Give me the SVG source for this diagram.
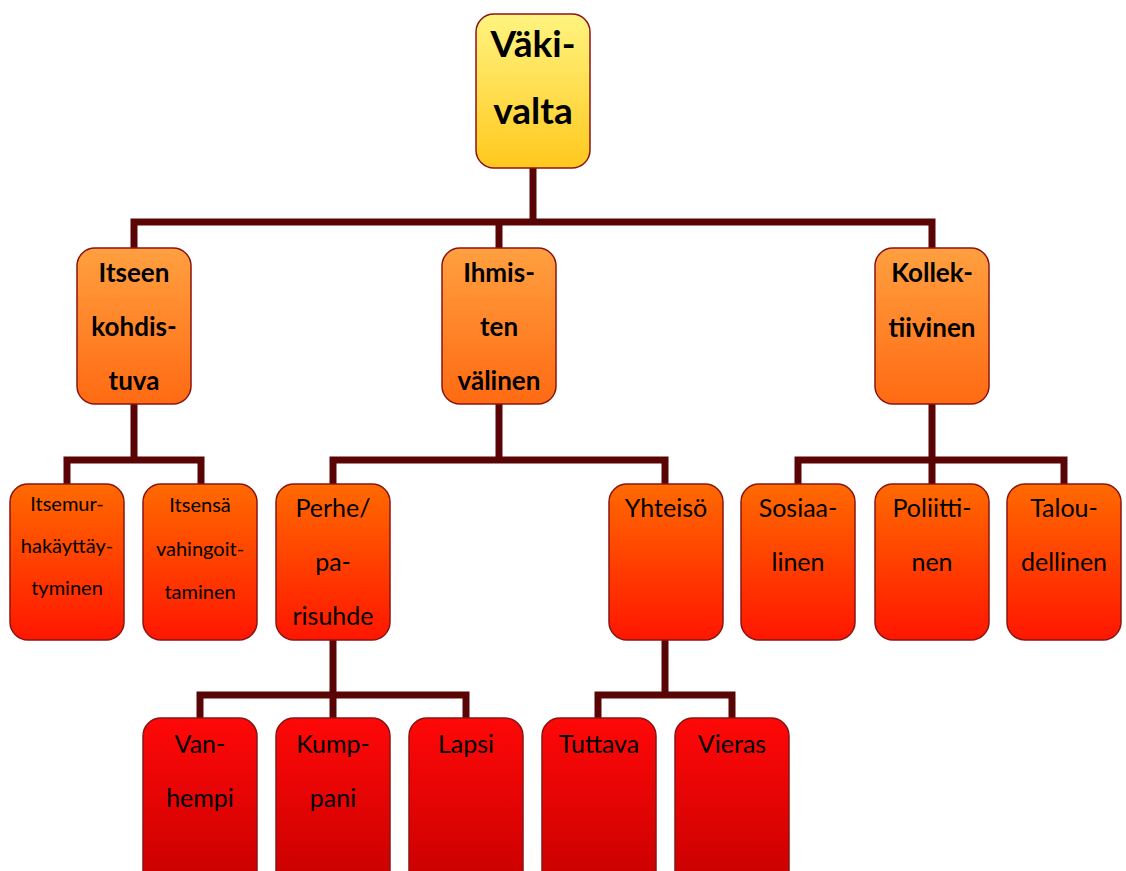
<svg xmlns="http://www.w3.org/2000/svg" width="1126" height="871" viewBox="0 0 1126 871">
<defs>
<linearGradient id="g1" x1="0" y1="0" x2="0" y2="1"><stop offset="0" stop-color="#fff480"/><stop offset="1" stop-color="#ffc81e"/></linearGradient>
<linearGradient id="g2" x1="0" y1="0" x2="0" y2="1"><stop offset="0" stop-color="#ffa040"/><stop offset="1" stop-color="#ff6a12"/></linearGradient>
<linearGradient id="g3" x1="0" y1="0" x2="0" y2="1"><stop offset="0" stop-color="#ff6a00"/><stop offset="1" stop-color="#ff1600"/></linearGradient>
<linearGradient id="g4" x1="0" y1="0" x2="0" y2="1"><stop offset="0" stop-color="#ff0808"/><stop offset="1" stop-color="#c80000"/></linearGradient>
</defs>
<style>
.box{stroke:#8a1414;stroke-width:1.5}
.l1{fill:url(#g1)}.l2{fill:url(#g2)}.l3{fill:url(#g3)}.l4{fill:url(#g4)}
text{font-family:Lato,"Open Sans","Liberation Sans",sans-serif;fill:#000;text-anchor:middle}
.t1{font-size:37px;font-weight:bold}
.t2{font-size:26px;font-weight:bold}
.t3{font-size:25px}
.t3s{font-size:20px}
.conn{fill:none;stroke:#5a0505;stroke-width:7;stroke-linejoin:miter;stroke-linecap:butt}
</style>
<g id="connectors">
<path class="conn" d="M533 168V222M134 248V222H932V248M499 222V248"/>
<path class="conn" d="M134 404V460M67 484V460H201V484"/>
<path class="conn" d="M499 404V460M333 484V460H665V484"/>
<path class="conn" d="M932 404V460M798 484V460H1064V484M932 460V484"/>
<path class="conn" d="M333 640V695M200 718V695H466V718M333 695V718"/>
<path class="conn" d="M665 640V695M598 718V695H732V718"/>
</g>
<g id="n-vakivalta"><rect class="box l1" x="476" y="14" width="114" height="154" rx="18"/><text class="t1" x="533" y="57">Väki-</text><text class="t1" x="533" y="124">valta</text></g>
<g id="n-itseen"><rect class="box l2" x="77" y="248" width="114" height="156" rx="18"/><text class="t2" x="134" y="282">Itseen</text><text class="t2" x="134" y="336">kohdis-</text><text class="t2" x="134" y="390">tuva</text></g>
<g id="n-ihmisten"><rect class="box l2" x="442" y="248" width="114" height="156" rx="18"/><text class="t2" x="499" y="282">Ihmis-</text><text class="t2" x="499" y="336">ten</text><text class="t2" x="499" y="390">välinen</text></g>
<g id="n-kollektiivinen"><rect class="box l2" x="875" y="248" width="114" height="156" rx="18"/><text class="t2" x="932" y="282">Kollek-</text><text class="t2" x="932" y="337">tiivinen</text></g>
<g id="n-itsemurha"><rect class="box l3" x="10" y="484" width="114" height="156" rx="18"/><text class="t3s" x="67" y="511">Itsemur-</text><text class="t3s" x="67" y="553">hakäyttäy-</text><text class="t3s" x="67" y="595">tyminen</text></g>
<g id="n-itsensa"><rect class="box l3" x="143" y="484" width="114" height="156" rx="18"/><text class="t3s" x="200" y="512">Itsensä</text><text class="t3s" x="200" y="556">vahingoit-</text><text class="t3s" x="200" y="599">taminen</text></g>
<g id="n-perhe"><rect class="box l3" x="276" y="484" width="114" height="156" rx="18"/><text class="t3" x="333" y="517">Perhe/</text><text class="t3" x="333" y="571">pa-</text><text class="t3" x="333" y="625">risuhde</text></g>
<g id="n-yhteiso"><rect class="box l3" x="609" y="484" width="114" height="156" rx="18"/><text class="t3" x="666" y="517">Yhteisö</text></g>
<g id="n-sosiaalinen"><rect class="box l3" x="741" y="484" width="114" height="156" rx="18"/><text class="t3" x="798" y="517">Sosiaa-</text><text class="t3" x="798" y="571">linen</text></g>
<g id="n-poliittinen"><rect class="box l3" x="875" y="484" width="114" height="156" rx="18"/><text class="t3" x="932" y="517">Poliitti-</text><text class="t3" x="932" y="571">nen</text></g>
<g id="n-taloudellinen"><rect class="box l3" x="1007" y="484" width="114" height="156" rx="18"/><text class="t3" x="1064" y="517">Talou-</text><text class="t3" x="1064" y="571">dellinen</text></g>
<g id="n-vanhempi"><rect class="box l4" x="143" y="718" width="114" height="170" rx="18"/><text class="t3" x="200" y="753">Van-</text><text class="t3" x="200" y="807">hempi</text></g>
<g id="n-kumppani"><rect class="box l4" x="276" y="718" width="114" height="170" rx="18"/><text class="t3" x="333" y="753">Kump-</text><text class="t3" x="333" y="807">pani</text></g>
<g id="n-lapsi"><rect class="box l4" x="409" y="718" width="114" height="170" rx="18"/><text class="t3" x="466" y="753">Lapsi</text></g>
<g id="n-tuttava"><rect class="box l4" x="542" y="718" width="114" height="170" rx="18"/><text class="t3" x="599" y="753">Tuttava</text></g>
<g id="n-vieras"><rect class="box l4" x="675" y="718" width="114" height="170" rx="18"/><text class="t3" x="732" y="753">Vieras</text></g>
</svg>
